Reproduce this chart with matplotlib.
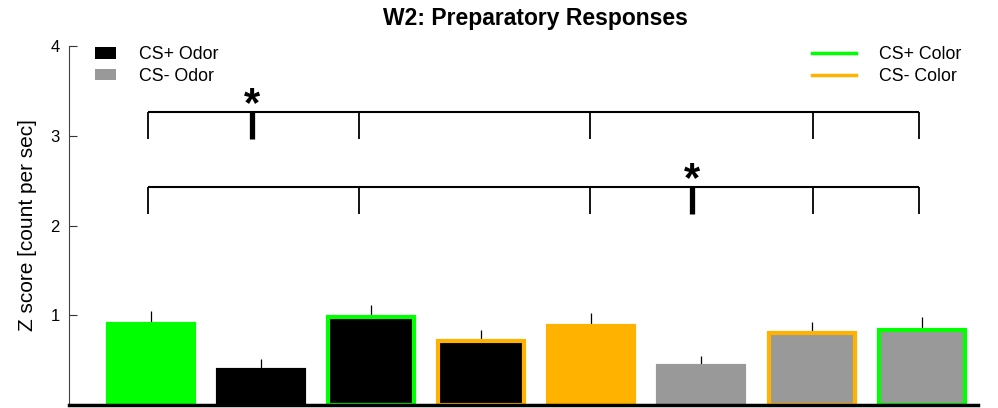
import matplotlib
matplotlib.use("Agg")
import matplotlib.pyplot as plt
from matplotlib.patches import Patch
from matplotlib.lines import Line2D

plt.rcParams['font.family'] = ['Liberation Sans', 'DejaVu Sans']

# bar data
positions = [1, 2, 3, 4, 5, 6, 7, 8]
means = [0.905, 0.39, 0.98, 0.71, 0.88, 0.43, 0.80, 0.84]
sems = [0.14, 0.12, 0.13, 0.13, 0.14, 0.12, 0.13, 0.14]

GREEN = '#00ff00'
ORANGE = '#ffb300'
GRAY = '#999999'
fills = [GREEN, 'black', 'black', 'black', ORANGE, GRAY, GRAY, GRAY]
edges = [GREEN, 'black', GREEN, ORANGE, ORANGE, GRAY, ORANGE, GREEN]

# significance brackets: (y of bar, y of leg bottom, star x)
bracket_legs = [0.975, 2.89, 4.99, 7.01, 7.97]
brackets = [(3.263, 2.96, 1.92), (2.424, 2.126, 5.91)]

fig = plt.figure(figsize=(9.98, 4.08), dpi=100)
ax = fig.add_axes([69/998, 1-405/408, (978-69)/998, (405-46)/408])

ax.bar(positions, means, width=0.78, color=fills, edgecolor=edges, linewidth=3, zorder=2)
ax.errorbar(positions, means, yerr=[[0]*8, sems], fmt='none', ecolor='black',
            elinewidth=0.9, capsize=0, zorder=1)

for ytop, ybot, xstar in brackets:
    ax.plot([bracket_legs[0], bracket_legs[-1]], [ytop, ytop], color='black', lw=1.5, solid_capstyle='butt')
    for xl in bracket_legs:
        ax.plot([xl, xl], [ytop, ybot], color='black', lw=1.3, solid_capstyle='butt')
    ax.plot([xstar, xstar], [ytop, ybot], color='black', lw=3.8, solid_capstyle='butt')
    ax.text(xstar, ytop - 0.14, '*', ha='center', va='bottom', fontsize=30, fontweight='bold')

ax.set_xlim(0.26, 8.51)
ax.set_ylim(0, 4)
ax.set_yticks([1, 2, 3, 4])
ax.set_xticks([])
ax.tick_params(axis='y', direction='in', length=6, width=0.8, pad=6.5, labelsize=12, color='#333333')
for s in ['top', 'right']:
    ax.spines[s].set_visible(False)
ax.spines['left'].set_color('#444444')
ax.spines['left'].set_linewidth(0.8)
ax.spines['bottom'].set_color('black')
ax.spines['bottom'].set_linewidth(2.5)
ax.set_ylabel('Z score [count per sec]', fontsize=15, labelpad=10)

fig.text(535/998, 1-18/408, 'W2: Preparatory Responses', ha='center', va='center',
         fontsize=16.5, fontweight='bold')

odor_handles = [Patch(facecolor='black', edgecolor='none'), Patch(facecolor=GRAY, edgecolor='none')]
leg1 = ax.legend(odor_handles, ['CS+ Odor', 'CS- Odor'], loc='upper left',
                 bbox_to_anchor=(95/998, 1-46/408), bbox_transform=fig.transFigure,
                 frameon=False, fontsize=12.8, handlelength=1.2, handleheight=0.65,
                 handletextpad=1.25, labelspacing=0.27, borderpad=0, borderaxespad=0)
ax.add_artist(leg1)
color_handles = [Line2D([], [], color=GREEN, lw=2.5), Line2D([], [], color=ORANGE, lw=2.5)]
ax.legend(color_handles, ['CS+ Color', 'CS- Color'], loc='upper left',
          bbox_to_anchor=(812/998, 1-46/408), bbox_transform=fig.transFigure,
          frameon=False, fontsize=12.8, handlelength=2.45, handletextpad=1.3,
          labelspacing=0.27, borderpad=0, borderaxespad=0)

fig.savefig('out.png', dpi=100)
